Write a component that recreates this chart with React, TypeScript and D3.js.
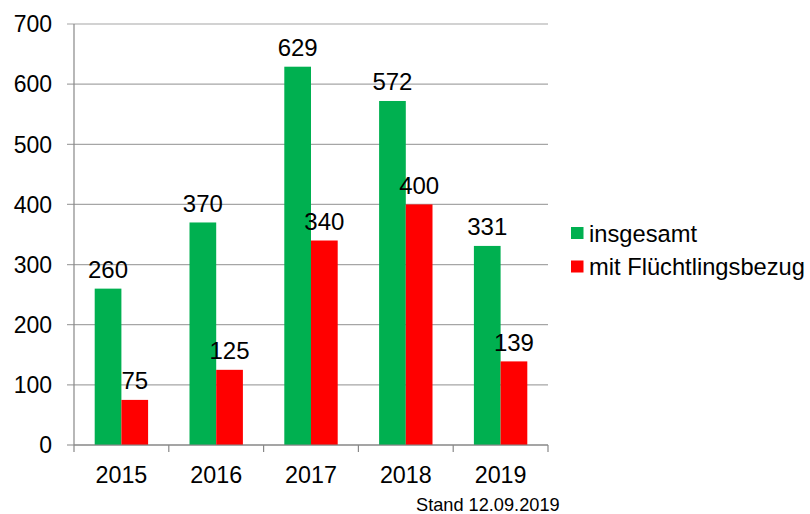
import React from "react";
import * as d3 from "d3";

const categories = ["2015", "2016", "2017", "2018", "2019"];
const seriesNames = ["insgesamt", "mit Flüchtlingsbezug"];
const insgesamt = [260, 370, 629, 572, 331];
const fluechtling = [75, 125, 340, 400, 139];
const yTicks = [0, 100, 200, 300, 400, 500, 600, 700];
const footnote = "Stand 12.09.2019";

const colors = ["#00B050", "#FF0000"];
const font = "'Liberation Sans', Arial, sans-serif";

export default function App() {
  const W = 810, H = 514;
  const x0 = 74, x1 = 548, yTop = 24, yBot = 445;
  const x = d3.scaleBand<string>().domain(categories).range([x0, x1]).paddingInner(0).paddingOuter(0);
  const y = d3.scaleLinear().domain([0, 700]).range([yBot, yTop]);
  const groupW = 53.4;
  const inner = d3.scaleBand<number>().domain([0, 1]).range([0, groupW]).padding(0);
  const series = [insgesamt, fluechtling];

  return (
    <svg width={W} height={H} style={{ position: "absolute", left: 0, top: 0, background: "#fff" }} fontFamily={font}>
      {yTicks.map((t) => (
        <line key={"g" + t} x1={67} x2={x1} y1={y(t)} y2={y(t)} stroke={t === 0 ? "#888" : "#a6a6a6"} strokeWidth={1.2} />
      ))}
      {yTicks.map((t) => (
        <text key={"yl" + t} x={52} y={y(t)} dy="0.36em" textAnchor="end" fontSize={23} fill="#000">
          {t}
        </text>
      ))}
      {categories.map((c, i) => {
        const gx = (x(c) as number) + (x.bandwidth() - groupW) / 2;
        return (
          <g key={c}>
            {series.map((s, k) => (
              <rect key={k} x={gx + (inner(k) as number)} y={y(s[i])} width={inner.bandwidth()} height={yBot - y(s[i])} fill={colors[k]} />
            ))}
          </g>
        );
      })}
      <line x1={x0} x2={x0} y1={yTop} y2={yBot} stroke="#888" strokeWidth={1.2} />
      <line x1={x0} x2={x1} y1={yBot} y2={yBot} stroke="#888" strokeWidth={1.2} />
      {[...categories.map((c) => x(c) as number), x1].map((tx, i) => (
        <line key={"xt" + i} x1={tx} x2={tx} y1={yBot} y2={yBot + 7} stroke="#888" strokeWidth={1.2} />
      ))}
      {categories.map((c) => (
        <text key={"xl" + c} x={(x(c) as number) + x.bandwidth() / 2} y={483} textAnchor="middle" fontSize={23.3} fill="#000">
          {c}
        </text>
      ))}
      {categories.map((c, i) => {
        const gx = (x(c) as number) + (x.bandwidth() - groupW) / 2;
        return series.map((s, k) => (
          <text key={"dl" + c + k} x={gx + (inner(k) as number) + inner.bandwidth() / 2} y={y(s[i]) - 10.5} textAnchor="middle" fontSize={24} fill="#000">
            {s[i]}
          </text>
        ));
      })}
      {seriesNames.map((n, k) => (
        <g key={"lg" + k} transform={`translate(571, ${227 + k * 33.5})`}>
          <rect x={0} y={0} width={12.5} height={12} fill={colors[k]} />
          <text x={18} y={6} dy="0.36em" fontSize={23.7} fill="#000">
            {n}
          </text>
        </g>
      ))}
      <text x={416} y={511} fontSize={18.2} fill="#000">
        {footnote}
      </text>
    </svg>
  );
}
